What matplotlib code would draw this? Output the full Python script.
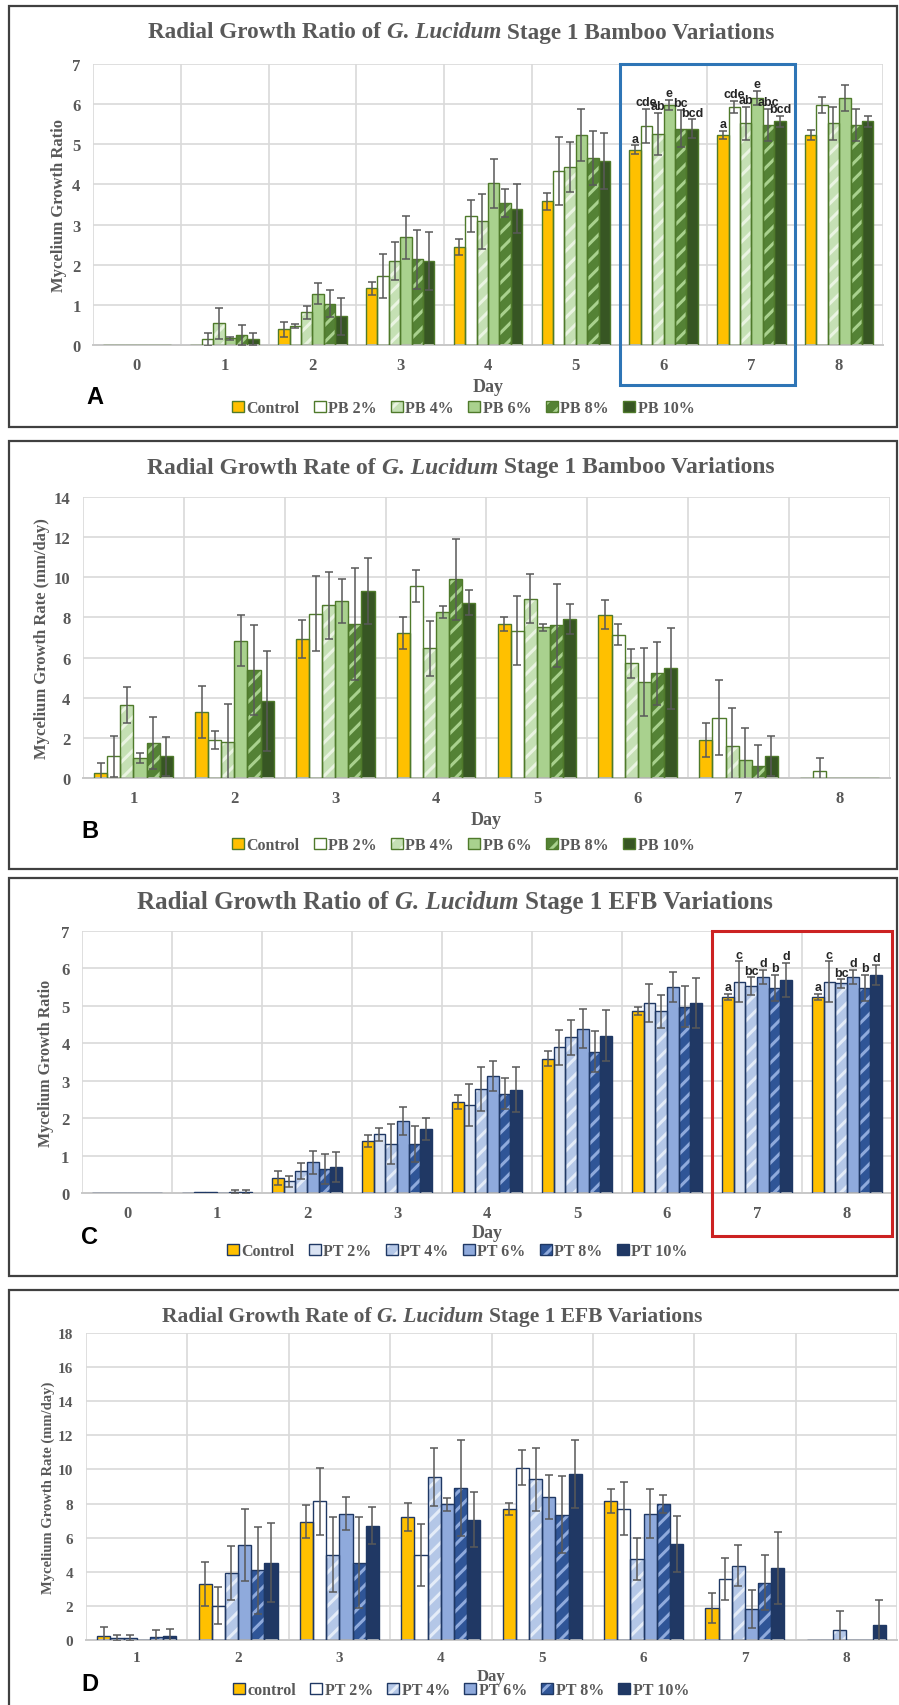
import numpy as np
import matplotlib
matplotlib.use("Agg")
import matplotlib.pyplot as plt
import matplotlib.transforms as mtransforms
from matplotlib.patches import Rectangle, Patch

plt.rcParams["font.family"] = ["Liberation Serif", "DejaVu Serif"]
plt.rcParams["font.weight"] = "bold"
plt.rcParams["hatch.linewidth"] = 2.2

# ---- data ----
days_ratio = [0, 1, 2, 3, 4, 5, 6, 7, 8]
days_rate = [1, 2, 3, 4, 5, 6, 7, 8]

# A: bamboo, growth ratio
ctrl_A = [0, 0, 0.39, 1.41, 2.43, 3.58, 4.87, 5.23, 5.23]
ctrl_A_err = [0, 0, 0.19, 0.16, 0.20, 0.21, 0.10, 0.10, 0.12]
pb2_A = [0, 0.14, 0.47, 1.72, 3.21, 4.34, 5.46, 5.93, 5.98]
pb2_A_err = [0, 0.17, 0.05, 0.54, 0.39, 0.84, 0.42, 0.15, 0.19]
pb4_A = [0, 0.54, 0.82, 2.09, 3.08, 4.43, 5.26, 5.52, 5.52]
pb4_A_err = [0, 0.38, 0.16, 0.47, 0.68, 0.63, 0.53, 0.41, 0.41]
pb6_A = [0, 0.17, 1.28, 2.68, 4.03, 5.24, 5.98, 6.15, 6.15]
pb6_A_err = [0, 0.04, 0.27, 0.53, 0.61, 0.65, 0.13, 0.18, 0.33]
pb8_A = [0, 0.25, 1.03, 2.13, 3.54, 4.66, 5.39, 5.48, 5.48]
pb8_A_err = [0, 0.25, 0.33, 0.74, 0.34, 0.67, 0.47, 0.41, 0.41]
pb10_A = [0, 0.15, 0.72, 2.09, 3.40, 4.58, 5.39, 5.57, 5.57]
pb10_A_err = [0, 0.14, 0.46, 0.72, 0.61, 0.70, 0.23, 0.14, 0.14]
letters_A = {6: ["a", "cde", "ab", "e", "bc", "bcd"],
             7: ["a", "cde", "ab", "e", "abc", "bcd"]}

# B: bamboo, growth rate
ctrl_B = [0.27, 3.28, 6.92, 7.22, 7.67, 8.14, 1.90, 0]
ctrl_B_err = [0.50, 1.30, 0.95, 0.80, 0.35, 0.71, 0.86, 0]
pb2_B = [1.08, 1.90, 8.19, 9.57, 7.34, 7.14, 3.00, 0.35]
pb2_B_err = [1.03, 0.46, 1.88, 0.80, 1.73, 0.51, 1.86, 0.66]
pb4_B = [3.63, 1.78, 8.60, 6.46, 8.94, 5.71, 1.61, 0]
pb4_B_err = [0.90, 1.93, 1.67, 1.38, 1.24, 0.71, 1.88, 0]
pb6_B = [1.01, 6.84, 8.82, 8.27, 7.50, 4.78, 0.88, 0]
pb6_B_err = [0.25, 1.26, 1.11, 0.32, 0.17, 1.71, 1.62, 0]
pb8_B = [1.75, 5.37, 7.67, 9.90, 7.60, 5.21, 0.60, 0]
pb8_B_err = [1.28, 2.23, 2.81, 2.01, 2.05, 1.55, 1.05, 0]
pb10_B = [1.08, 3.84, 9.32, 8.74, 7.94, 5.46, 1.08, 0]
pb10_B_err = [0.97, 2.47, 1.66, 0.61, 0.75, 2.01, 1.00, 0]

# C: EFB, growth ratio
ctrl_C = [0, 0, 0.40, 1.39, 2.44, 3.59, 4.86, 5.24, 5.24]
ctrl_C_err = [0, 0, 0.18, 0.15, 0.19, 0.20, 0.10, 0.09, 0.09]
pt2_C = [0, 0.03, 0.31, 1.57, 2.36, 3.89, 5.08, 5.65, 5.65]
pt2_C_err = [0, 0, 0.14, 0.18, 0.56, 0.47, 0.50, 0.54, 0.54]
pt4_C = [0, 0.03, 0.58, 1.31, 2.77, 4.16, 4.86, 5.52, 5.60]
pt4_C_err = [0, 0, 0.21, 0.54, 0.59, 0.47, 0.44, 0.24, 0.11]
pt6_C = [0, 0, 0.82, 1.92, 3.13, 4.39, 5.50, 5.77, 5.77]
pt6_C_err = [0, 0, 0.31, 0.38, 0.41, 0.52, 0.40, 0.19, 0.19]
pt8_C = [0, 0.04, 0.64, 1.31, 2.65, 3.78, 4.98, 5.48, 5.48]
pt8_C_err = [0, 0.04, 0.40, 0.49, 0.41, 0.54, 0.55, 0.35, 0.35]
pt10_C = [0, 0.02, 0.69, 1.71, 2.76, 4.20, 5.08, 5.70, 5.83]
pt10_C_err = [0, 0.05, 0.40, 0.29, 0.60, 0.68, 0.67, 0.45, 0.26]
letters_C = {7: ["a", "c", "bc", "d", "b", "d"],
             8: ["a", "c", "bc", "d", "b", "d"]}

# D: EFB, growth rate
ctrl_D = [0.24, 3.29, 6.94, 7.20, 7.67, 8.14, 1.90, 0]
ctrl_D_err = [0.52, 1.28, 0.96, 0.82, 0.35, 0.70, 0.88, 0]
pt2_D = [0.12, 2.02, 8.14, 4.96, 10.10, 7.69, 3.59, 0]
pt2_D_err = [0.15, 1.06, 1.96, 1.82, 1.04, 1.56, 1.23, 0]
pt4_D = [0.14, 3.94, 5.00, 9.55, 9.43, 4.76, 4.35, 0.59]
pt4_D_err = [0.17, 1.57, 2.20, 1.69, 1.84, 1.24, 1.20, 1.12]
pt6_D = [0, 5.57, 7.41, 7.96, 8.37, 7.41, 1.82, 0]
pt6_D_err = [0, 2.14, 0.96, 0.37, 1.28, 1.45, 1.14, 0]
pt8_D = [0.20, 4.08, 4.53, 8.90, 7.35, 7.96, 3.37, 0]
pt8_D_err = [0.39, 2.55, 2.67, 2.83, 2.26, 0.53, 1.59, 0]
pt10_D = [0.24, 4.53, 6.69, 7.06, 9.73, 5.63, 4.24, 0.86]
pt10_D_err = [0.41, 2.31, 1.09, 1.59, 2.00, 1.64, 2.11, 1.51]

labels_pb = ["Control", "PB 2%", "PB 4%", "PB 6%", "PB 8%", "PB 10%"]
labels_pt_c = ["Control", "PT 2%", "PT 4%", "PT 6%", "PT 8%", "PT 10%"]
labels_pt_d = ["control", "PT 2%", "PT 4%", "PT 6%", "PT 8%", "PT 10%"]

# ---- styles: (face, hatch, hatch colour, edge) ----
GREEN_EDGE = "#4F7A2B"
NAVY_EDGE = "#1F3864"
style_pb = [
    ("#FFC000", None, "#FFC000", GREEN_EDGE),
    ("#FFFFFF", None, "#FFFFFF", GREEN_EDGE),
    ("#C5E0B4", "//", "#EAF4E2", GREEN_EDGE),
    ("#A9D18E", None, "#A9D18E", GREEN_EDGE),
    ("#548235", "//", "#A9D18E", GREEN_EDGE),
    ("#375623", None, "#375623", GREEN_EDGE),
]
style_pt_c = [
    ("#FFC000", None, "#FFC000", NAVY_EDGE),
    ("#DAE3F3", None, "#DAE3F3", NAVY_EDGE),
    ("#B4C7E7", "//", "#E4ECF8", NAVY_EDGE),
    ("#8FAADC", None, "#8FAADC", NAVY_EDGE),
    ("#2F5597", "//", "#8FAADC", NAVY_EDGE),
    ("#203864", None, "#203864", NAVY_EDGE),
]
style_pt_d = [style_pt_c[0], ("#FFFFFF", None, "#FFFFFF", NAVY_EDGE)] + style_pt_c[2:]

W, H = 899, 1706
fig = plt.figure(figsize=(W / 100, H / 100), dpi=100)
renderer = fig.canvas.get_renderer()
GREY = "#595959"
GRID = "#D9D9D9"


def frame(x0, y0, x1, y1):
    fig.patches.append(Rectangle((x0 / W, 1 - y1 / H), (x1 - x0) / W, (y1 - y0) / H,
                                 transform=fig.transFigure, fill=False,
                                 edgecolor="#404040", linewidth=1.6))


def title_line(xc, yc, head, tail, size):
    # plain / italic / plain pieces laid side by side, centred on xc
    parts = [(head, "normal"), ("G. Lucidum", "italic"), (tail, "normal")]
    texts = [fig.text(0, 1 - yc / H, s, fontsize=size, style=st, color=GREY,
                      ha="left", va="center") for s, st in parts]
    probe_a = fig.text(0, 0, "x x", fontsize=size)
    probe_b = fig.text(0, 0, "xx", fontsize=size)
    gap = (probe_a.get_window_extent(renderer).width
           - probe_b.get_window_extent(renderer).width)
    probe_a.remove()
    probe_b.remove()
    widths = [t.get_window_extent(renderer).width for t in texts]
    x = xc - (sum(widths) + 2 * gap) / 2
    for t, w in zip(texts, widths):
        t.set_x(x / W)
        x += w + gap


def panel(box, days, series, errors, styles, labels, ymax, ystep, title, title_size,
          title_xy, ylabel, ylabel_size, ylabel_x, tick_size, day_y, tick_pad,
          letter, letter_xy, legend_xy, letters=None):
    x0, y0, x1, y1 = box
    ax = fig.add_axes([x0 / W, 1 - y1 / H, (x1 - x0) / W, (y1 - y0) / H])
    n = len(days)
    x = np.arange(n)
    width = 0.13
    offsets = (np.arange(6) - 2.5) * width
    handles = []
    for i, (vals, errs, (fc, hatch, hc, ec)) in enumerate(zip(series, errors, styles)):
        vals = np.asarray(vals, float)
        errs = np.asarray(errs, float)
        ax.bar(x + offsets[i], vals, width, color=fc, hatch=hatch, edgecolor=hc,
               linewidth=0, zorder=2)
        ax.bar(x + offsets[i], vals, width, fill=False, edgecolor=ec, linewidth=1.0,
               zorder=3)
        m = errs > 0
        ax.errorbar(x[m] + offsets[i], vals[m], yerr=errs[m], fmt="none", ecolor=GREY,
                    elinewidth=1.1, capsize=3, capthick=1.1, zorder=4)
        handles.append((Patch(facecolor=fc, hatch=hatch, edgecolor=hc, linewidth=0),
                        Patch(fill=False, edgecolor=ec, linewidth=1.0)))
        if letters:
            for day, marks in letters.items():
                k = days.index(day)
                ax.annotate(marks[i], (k + offsets[i], vals[k] + errs[k]),
                            xytext=(0, 0.5), textcoords="offset points",
                            ha="center", va="bottom", fontsize=9,
                            family="Liberation Sans", fontweight="bold",
                            color="#262626", zorder=6)

    ax.set_xlim(-0.5, n - 0.5)
    ax.set_ylim(0, ymax)
    ax.set_yticks(np.arange(0, ymax + 0.1, ystep))
    ax.set_xticks(x)
    ax.set_xticklabels([str(d) for d in days])
    for k in range(n + 1):
        ax.axvline(k - 0.5, color=GRID, linewidth=1.2, zorder=0)
    ax.yaxis.grid(True, color=GRID, linewidth=1.2, zorder=0)
    ax.set_axisbelow(True)
    for s in ["top", "right", "left"]:
        ax.spines[s].set_visible(False)
    ax.spines["bottom"].set_color("#C8C8C8")
    ax.spines["bottom"].set_linewidth(1.4)
    ax.tick_params(length=0, labelsize=tick_size, colors=GREY)
    ax.tick_params(axis="x", pad=tick_pad)
    ax.tick_params(axis="y", pad=9)

    title_line(title_xy[0], title_xy[1], title[0], title[1], title_size)
    fig.text(ylabel_x / W, 1 - (y0 + y1) / 2 / H, ylabel, rotation=90, ha="center",
             va="center", fontsize=ylabel_size, color=GREY)
    fig.text((x0 + x1) / 2 / W, 1 - day_y / H, "Day", ha="center", va="center",
             fontsize=tick_size + 1, color=GREY)
    fig.text(letter_xy[0] / W, 1 - letter_xy[1] / H, letter, ha="center", va="center",
             fontsize=17, family="Liberation Sans", fontweight="bold", color="black")
    fig.legend(handles, labels, loc="center",
               bbox_to_anchor=(legend_xy[0] / W, 1 - legend_xy[1] / H),
               ncol=6, frameon=False, handlelength=0.75, handleheight=0.75,
               handletextpad=0.15, columnspacing=0.9, borderaxespad=0,
               prop={"family": "Liberation Serif", "weight": "bold", "size": 11.5},
               labelcolor=GREY)
    return ax


frame(9, 7, 897, 428)
frame(9, 442, 897, 870)
frame(9, 879, 897, 1277)
frame(9, 1291, 910, 1715)

ax_a = panel((93, 65, 883, 346), days_ratio,
             [ctrl_A, pb2_A, pb4_A, pb6_A, pb8_A, pb10_A],
             [ctrl_A_err, pb2_A_err, pb4_A_err, pb6_A_err, pb8_A_err, pb10_A_err],
             style_pb, labels_pb, 7, 1,
             ("Radial Growth Ratio of", "Stage 1 Bamboo Variations"),
             16.7, (461, 33), "Mycelium Growth Ratio", 12, 59, 12, 388, 9,
             "A", (95, 398), (463, 409), letters_A)

ax_b = panel((83, 498, 890, 779), days_rate,
             [ctrl_B, pb2_B, pb4_B, pb6_B, pb8_B, pb10_B],
             [ctrl_B_err, pb2_B_err, pb4_B_err, pb6_B_err, pb8_B_err, pb10_B_err],
             style_pb, labels_pb, 14, 2,
             ("Radial Growth Rate of", "Stage 1 Bamboo Variations"),
             16.9, (461, 468), "Mycelium Growth Rate (mm/day)", 12, 42, 12, 821, 9,
             "B", (90, 832), (463, 846))

ax_c = panel((82, 932, 892, 1194), days_ratio,
             [ctrl_C, pt2_C, pt4_C, pt6_C, pt8_C, pt10_C],
             [ctrl_C_err, pt2_C_err, pt4_C_err, pt6_C_err, pt8_C_err, pt10_C_err],
             style_pt_c, labels_pt_c, 7, 1,
             ("Radial Growth Ratio of", "Stage 1 EFB Variations"),
             18, (455, 903), "Mycelium Growth Ratio", 11.5, 46, 12, 1234, 9,
             "C", (90, 1238), (457, 1252), letters_C)

ax_d = panel((86, 1334, 897, 1641), days_rate,
             [ctrl_D, pt2_D, pt4_D, pt6_D, pt8_D, pt10_D],
             [ctrl_D_err, pt2_D_err, pt4_D_err, pt6_D_err, pt8_D_err, pt10_D_err],
             style_pt_d, labels_pt_d, 18, 2,
             ("Radial Growth Rate of", "Stage 1 EFB Variations"),
             15.5, (432, 1317), "Mycelium Growth Rate (mm/day)", 10.5, 48, 11, 1677, 8,
             "D", (90, 1685), (461, 1691))

# highlight boxes around the days with significance letters
tr_a = mtransforms.blended_transform_factory(ax_a.transData, ax_a.transAxes)
ax_a.add_patch(Rectangle((5.5, -0.142), 2.0, 1.142, transform=tr_a, fill=False,
                         edgecolor="#2E75B6", linewidth=2.2, clip_on=False, zorder=7))
tr_c = mtransforms.blended_transform_factory(ax_c.transData, ax_c.transAxes)
ax_c.add_patch(Rectangle((6.5, -0.164), 2.0, 1.164, transform=tr_c, fill=False,
                         edgecolor="#CC2222", linewidth=2.2, clip_on=False, zorder=7))

fig.savefig("out.png", dpi=100, facecolor="white")
